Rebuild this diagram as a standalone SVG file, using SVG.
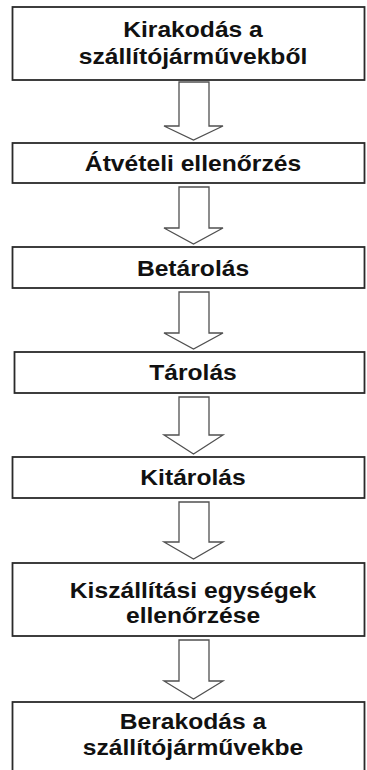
<svg xmlns="http://www.w3.org/2000/svg" width="367" height="770" viewBox="0 0 367 770">
  <style>
    .box { fill: #ffffff; stroke: #2a2a2a; stroke-width: 1.8; }
    .shadow { fill: none; stroke: #9a9a9a; stroke-width: 1; }
    .arrow { fill: #ffffff; stroke: #505050; stroke-width: 1.3; stroke-linejoin: miter; }
    .label { font-family: "Liberation Sans", Arial, sans-serif; font-weight: bold; font-size: 22px; fill: #111111; text-anchor: middle; }
  </style>
  <rect x="0" y="0" width="367" height="770" fill="#ffffff"/>

  <!-- block arrows between the steps -->
  <g id="connectors">
    <path class="arrow" d="M179,82 H209 V126 H223 L193.5,140 L164,126 H179 Z"/>
    <path class="arrow" d="M179,187 H209 V228 H223 L193.5,244 L164,228 H179 Z"/>
    <path class="arrow" d="M179,292 H209 V333 H223 L193.5,349 L164,333 H179 Z"/>
    <path class="arrow" d="M179,397 H209 V435 H223 L193.5,454 L164,435 H179 Z"/>
    <path class="arrow" d="M179,502 H209 V542 H223 L193.5,559 L164,542 H179 Z"/>
    <path class="arrow" d="M179,640 H209 V681 H223 L193.5,699 L164,681 H179 Z"/>
  </g>

  <g id="step1">
    <rect class="box" x="12.5" y="7" width="352" height="73"/>
    <g transform="translate(193 0) scale(1.12 1)">
      <text class="label" x="0" y="37.5">Kirakodás a</text>
      <text class="label" x="0" y="64.5">szállítójárművekből</text>
    </g>
  </g>

  <g id="step2">
    <rect class="box" x="12.5" y="143" width="352" height="40"/>
    <g transform="translate(193 0) scale(1.12 1)">
      <text class="label" x="0" y="171.5">Átvételi ellenőrzés</text>
    </g>
  </g>

  <g id="step3">
    <rect class="box" x="12.5" y="247" width="352" height="41"/>
    <g transform="translate(193 0) scale(1.12 1)">
      <text class="label" x="0" y="276.5">Betárolás</text>
    </g>
  </g>

  <g id="step4">
    <rect class="box" x="14.5" y="352" width="350" height="41"/>
    <g transform="translate(193 0) scale(1.12 1)">
      <text class="label" x="0" y="380">Tárolás</text>
    </g>
  </g>

  <g id="step5">
    <rect class="box" x="12.5" y="457" width="352" height="41"/>
    <g transform="translate(193 0) scale(1.12 1)">
      <text class="label" x="0" y="485">Kitárolás</text>
    </g>
  </g>

  <g id="step6">
    <rect class="box" x="12.5" y="563" width="352" height="73"/>
    <g transform="translate(193 0) scale(1.12 1)">
      <text class="label" x="0" y="598.3">Kiszállítási egységek</text>
      <text class="label" x="0" y="622.7">ellenőrzése</text>
    </g>
  </g>

  <g id="step7">
    <rect class="box" x="12.5" y="702" width="352" height="76"/>
    <g transform="translate(193 0) scale(1.12 1)">
      <text class="label" x="0" y="729">Berakodás a</text>
      <text class="label" x="0" y="755">szállítójárművekbe</text>
    </g>
  </g>
</svg>
